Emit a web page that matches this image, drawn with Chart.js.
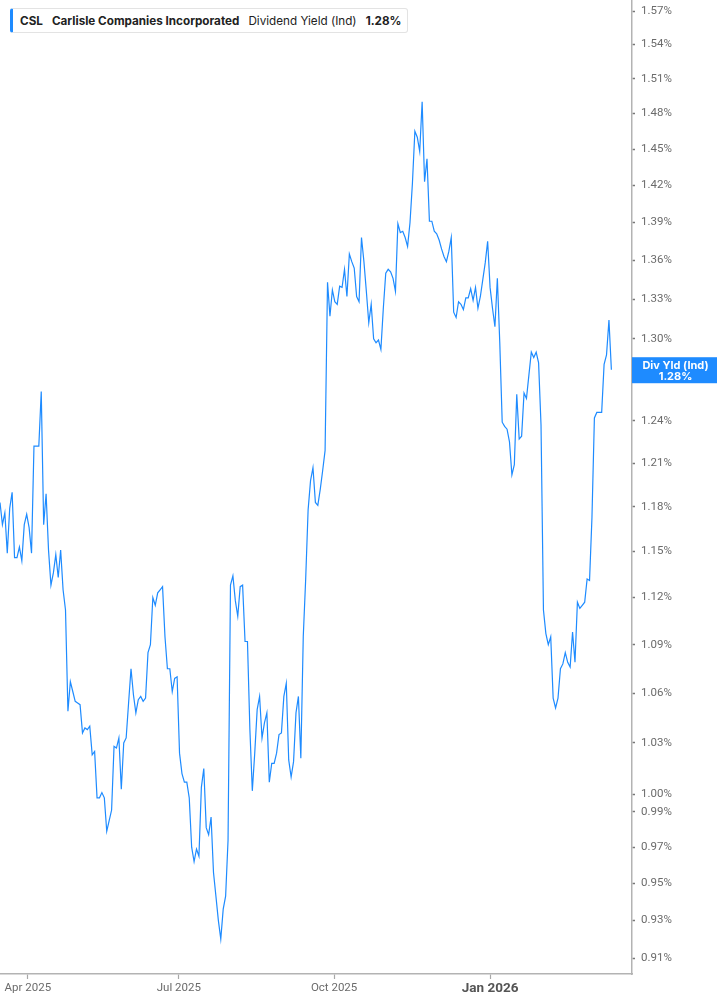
<!DOCTYPE html>
<html>
<head>
<meta charset="utf-8">
<script src="https://cdn.jsdelivr.net/npm/chart.js@4.4.1/dist/chart.umd.min.js"></script>
<style>
  html, body { margin: 0; padding: 0; background: #fff; }
  #wrap { position: relative; width: 717px; height: 1005px; }
  #legend {
    position: absolute; left: 10px; top: 8px; height: 25px;
    box-sizing: border-box; padding: 0 6px 0 7px;
    border: 1px solid #e3e3e3; border-left: 3px solid #1e8bff; border-radius: 3px;
    background: #fff; font-family: Inter, "Noto Sans", sans-serif; font-size: 11.7px;
    color: #222; display: flex; align-items: center; white-space: nowrap;
  }
  #legend b { font-weight: 700; }
  #legend span { margin-right: 9px; }
</style>
</head>
<body>
<div id="wrap">
  <canvas id="myChart" width="717" height="1005"></canvas>
  <div id="legend">
    <span><b>CSL</b></span>
    <span><b>Carlisle Companies Incorporated</b></span>
    <span>Dividend Yield (Ind)</span>
    <b>1.28%</b>
  </div>
</div>
<script>
// daily dividend yield (%), one value per trading day, mid Mar 2025 -> mid Mar 2026
var yieldVals = [
  1.183, 1.168, 1.176, 1.149, 1.179, 1.190, 1.146, 1.146, 1.153, 1.144,
  1.168, 1.175, 1.166, 1.149, 1.222, 1.222, 1.222, 1.261, 1.168, 1.189,
  1.151, 1.128, 1.136, 1.148, 1.133, 1.151, 1.125, 1.112, 1.049, 1.067,
  1.061, 1.055, 1.054, 1.053, 1.036, 1.039, 1.038, 1.040, 1.023, 1.025,
  0.998, 0.998, 1.001, 0.998, 0.979, 0.985, 0.991, 1.028, 1.027, 1.033,
  1.003, 1.030, 1.033, 1.054, 1.075, 1.059, 1.048, 1.056, 1.058, 1.055,
  1.057, 1.085, 1.090, 1.120, 1.115, 1.123, 1.125, 1.127, 1.095, 1.075,
  1.075, 1.061, 1.069, 1.070, 1.024, 1.012, 1.007, 1.007, 0.998, 0.970,
  0.962, 0.969, 0.965, 1.004, 1.015, 0.981, 0.977, 0.987, 0.956, 0.943,
  0.930, 0.920, 0.936, 0.943, 0.974, 1.128, 1.134, 1.118, 1.108, 1.127,
  1.128, 1.092, 1.092, 1.038, 1.002, 1.024, 1.050, 1.058, 1.033, 1.042,
  1.048, 1.007, 1.018, 1.018, 1.024, 1.035, 1.036, 1.058, 1.066, 1.020,
  1.010, 1.019, 1.048, 1.058, 1.021, 1.095, 1.132, 1.178, 1.198, 1.207,
  1.183, 1.181, 1.192, 1.205, 1.219, 1.343, 1.317, 1.337, 1.328, 1.326,
  1.340, 1.339, 1.353, 1.332, 1.365, 1.359, 1.354, 1.332, 1.328, 1.378,
  1.359, 1.336, 1.312, 1.326, 1.300, 1.297, 1.299, 1.292, 1.323, 1.350,
  1.353, 1.351, 1.346, 1.336, 1.389, 1.382, 1.383, 1.378, 1.371, 1.390,
  1.422, 1.465, 1.460, 1.448, 1.490, 1.423, 1.442, 1.391, 1.391, 1.383,
  1.381, 1.376, 1.369, 1.363, 1.359, 1.367, 1.378, 1.320, 1.316, 1.328,
  1.326, 1.322, 1.331, 1.331, 1.338, 1.329, 1.339, 1.323, 1.332, 1.345,
  1.358, 1.375, 1.339, 1.323, 1.309, 1.346, 1.297, 1.239, 1.236, 1.234,
  1.225, 1.202, 1.209, 1.259, 1.227, 1.229, 1.260, 1.256, 1.273, 1.290,
  1.286, 1.290, 1.282, 1.237, 1.112, 1.097, 1.090, 1.095, 1.057, 1.051,
  1.057, 1.075, 1.078, 1.085, 1.079, 1.076, 1.098, 1.079, 1.117, 1.113,
  1.115, 1.117, 1.132, 1.131, 1.173, 1.242, 1.246, 1.246, 1.246, 1.281,
  1.288, 1.314, 1.277
]

// x ticks: trading-day index where each quarter starts
var monthTickIdx = [11.5, 73.7, 137.7, 202]
var monthTickLabels = ['Apr 2025', 'Jul 2025', 'Oct 2025', 'Jan 2026']
var yearTick = 'Jan 2026'

var yTicks = [0.91, 0.93, 0.95, 0.97, 0.99, 1.00, 1.03, 1.06, 1.09, 1.12, 1.15, 1.18,
  1.21, 1.24, 1.27, 1.30, 1.33, 1.36, 1.39, 1.42, 1.45, 1.48, 1.51, 1.54, 1.57]

var seriesLabel = 'Div Yld (Ind)'
var lastLabel = '1.28%'

var blue = '#1e8bff'

// blue tag with the last value on the right axis
var lastValueTag = {
  id: 'lastValueTag',
  afterDraw: function (chart) {
    var ctx = chart.ctx
    var y = chart.scales.y.getPixelForValue(yieldVals[yieldVals.length - 1])
    var left = chart.chartArea.right
    var w = chart.width - left
    ctx.save()
    ctx.fillStyle = blue
    ctx.fillRect(left, y - 12.5, w, 26)
    ctx.fillStyle = '#fff'
    ctx.textAlign = 'center'
    ctx.textBaseline = 'middle'
    ctx.font = 'bold 11px Inter, "Noto Sans", sans-serif'
    ctx.fillText(seriesLabel, left + w / 2 + 1, y - 4.5)
    ctx.fillText(lastLabel, left + w / 2 + 1, y + 6.5)
    ctx.restore()
  }
}

var myChart = document.getElementById('myChart').getContext('2d')

var chart = new Chart(myChart, {
  type: 'line',
  data: {
    datasets: [
      {
        label: seriesLabel,
        data: yieldVals.map(function (v, i) { return { x: i, y: v } }),
        borderColor: blue,
        borderWidth: 1.2,
        pointRadius: 0,
        tension: 0,
        fill: false
      }
    ]
  },
  options: {
    responsive: false,
    animation: false,
    layout: { padding: 0 },
    plugins: {
      legend: { display: false },
      tooltip: { enabled: false }
    },
    scales: {
      x: {
        type: 'linear',
        min: 0,
        max: 260.5,
        afterFit: function (scale) {
          scale.height = 31
          scale.paddingLeft = 0
          scale.paddingRight = 0
        },
        afterBuildTicks: function (scale) {
          scale.ticks = monthTickIdx.map(function (v) { return { value: v } })
        },
        grid: { drawOnChartArea: false, tickLength: 5, tickColor: '#a8a8a8', tickWidth: 1.2 },
        border: { color: '#b3b3b3', width: 1.5 },
        ticks: {
          autoSkip: false,
          maxRotation: 0,
          padding: 2,
          callback: function (v, i) { return monthTickLabels[i] },
          color: function (c) { return monthTickLabels[c.index] === yearTick ? '#555' : '#6b6b6b' },
          font: function (c) {
            if (monthTickLabels[c.index] === yearTick) return { family: 'Roboto', size: 13.5, weight: 'bold' }
            return { family: 'Roboto', size: 11.5 }
          }
        }
      },
      y: {
        type: 'logarithmic',
        position: 'right',
        min: 0.9017,
        max: 1.58,
        afterFit: function (scale) {
          scale.width = 85
          scale.paddingTop = 0
          scale.paddingBottom = 0
        },
        afterBuildTicks: function (scale) {
          scale.ticks = yTicks.map(function (v) { return { value: v } })
        },
        grid: { drawOnChartArea: false, tickLength: 3, tickColor: '#777', tickWidth: 1.5 },
        border: { color: '#b3b3b3', width: 1.5 },
        ticks: {
          autoSkip: false,
          padding: 6,
          color: '#6b6b6b',
          font: { family: 'Roboto', size: 11.5 },
          callback: function (v) { return Number(v).toFixed(2) + '%' }
        }
      }
    }
  },
  plugins: [lastValueTag]
})
</script>
</body>
</html>
